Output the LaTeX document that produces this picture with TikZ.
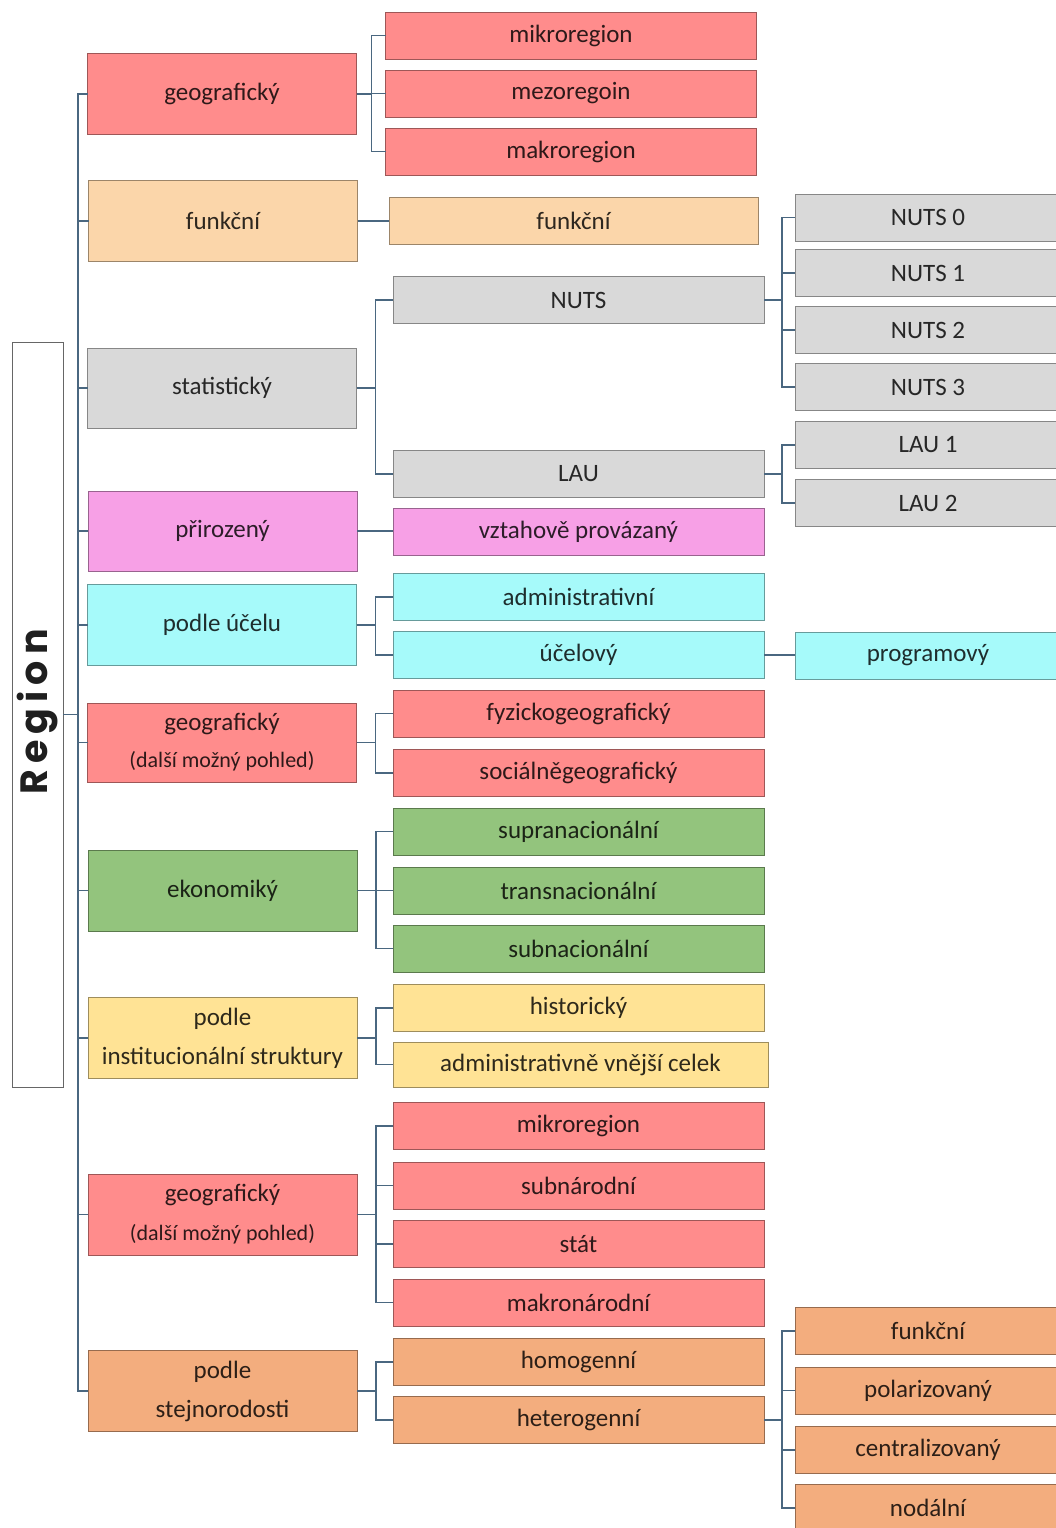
\documentclass[tikz,border=0pt]{standalone}
\usepackage{fontspec}
\setmainfont{Carlito}
\newfontfamily\regfont[LetterSpace=16]{Poppins}
\usetikzlibrary{calc}
\definecolor{cred}{HTML}{FF8C8C}
\definecolor{cpeach}{HTML}{FBD6AA}
\definecolor{cgray}{HTML}{D9D9D9}
\definecolor{cpink}{HTML}{F7A0E6}
\definecolor{ccyan}{HTML}{A6FAFA}
\definecolor{cgreen}{HTML}{93C47D}
\definecolor{cyellow}{HTML}{FFE395}
\definecolor{corange}{HTML}{F3AD7E}
\definecolor{lnk}{HTML}{4A6780}
\tikzset{
  box/.style={draw=#1!62!black, line width=0.7pt, fill=#1, text=#1!18!black,
    inner sep=0pt, outer sep=0pt, font=\fontsize{25}{39}\selectfont, align=center},
  lone/.style={minimum width=269pt, minimum height=81pt},
  ltwo/.style={minimum width=371pt, minimum height=47pt},
  lthree/.style={minimum width=266pt, minimum height=47pt},
  conn/.style={draw=lnk, line width=1.2pt}
}
\newcommand\subt[1]{{\fontsize{22}{22}\selectfont #1}}
\begin{document}
\begin{tikzpicture}[x=1pt,y=-1pt]
\useasboundingbox (0,0) rectangle (1055,1528);
% Region
\node[draw=black!60, line width=0.8pt, fill=white, minimum width=51pt, minimum height=745pt, inner sep=0pt, outer sep=0pt, text=black!88]
  (reg) at (37.5,714.5) {\rotatebox{90}{\fontsize{38}{38}\regfont\bfseries Region\hspace{-5pt}}};
% level 1
\node[box=cred, lone] (g1) at (222,94) {geografický};
\node[box=cpeach, lone] (f1) at (223,221) {funkční};
\node[box=cgray, lone, minimum height=80pt] (s1) at (222,388) {statistický};
\node[box=cpink, lone, minimum height=80pt] (p1) at (222.5,531) {přirozený};
\node[box=ccyan, lone] (u1) at (222,625) {podle účelu};
\node[box=cred, lone, minimum height=79pt, font=\fontsize{25}{37}\selectfont] (g2) at (222,742.5) {geografický\\\subt{(další možný pohled)}};
\node[box=cgreen, lone] (e1) at (222.5,890.5) {ekonomiký};
\node[box=cyellow, lone] (i1) at (222.5,1038) {podle\\institucionální struktury};
\node[box=cred, lone, font=\fontsize{25}{39}\selectfont] (g3) at (222.5,1214.5) {geografický\\\subt{(další možný pohled)}};
\node[box=corange, lone] (h1) at (222.5,1391) {podle\\stejnorodosti};
% level 2
\node[box=cred, ltwo] (a1) at (571,35.5) {mikroregion};
\node[box=cred, ltwo] (a2) at (571,93.5) {mezoregoin};
\node[box=cred, ltwo] (a3) at (571,151.5) {makroregion};
\node[box=cpeach, ltwo, minimum width=369pt] (b1) at (573.5,221) {funkční};
\node[box=cgray, ltwo] (c1) at (578.5,300) {NUTS};
\node[box=cgray, ltwo] (c2) at (578.5,474) {LAU};
\node[box=cpink, ltwo] (d1) at (578.5,532) {vztahově provázaný};
\node[box=ccyan, ltwo] (k1) at (578.5,597) {administrativní};
\node[box=ccyan, ltwo] (k2) at (578.5,655) {účelový};
\node[box=cred, ltwo] (m1) at (578.5,713.5) {fyzickogeografický};
\node[box=cred, ltwo] (m2) at (578.5,773) {sociálněgeografický};
\node[box=cgreen, ltwo] (n1) at (578.5,831.5) {supranacionální};
\node[box=cgreen, ltwo] (n2) at (578.5,890.5) {transnacionální};
\node[box=cgreen, ltwo] (n3) at (578.5,948.5) {subnacionální};
\node[box=cyellow, ltwo] (q1) at (578.5,1008) {historický};
\node[box=cyellow, ltwo, minimum width=375pt, minimum height=45pt] (q2) at (580.5,1064.5) {administrativně vnější celek};
\node[box=cred, ltwo] (r1) at (578.5,1126) {mikroregion};
\node[box=cred, ltwo] (r2) at (578.5,1185.5) {subnárodní};
\node[box=cred, ltwo] (r3) at (578.5,1244) {stát};
\node[box=cred, ltwo] (r4) at (578.5,1302.5) {makronárodní};
\node[box=corange, ltwo] (t1) at (578.5,1362) {homogenní};
\node[box=corange, ltwo] (t2) at (578.5,1420) {heterogenní};
% level 3
\node[box=cgray, lthree] (x0) at (928,217.5) {NUTS 0};
\node[box=cgray, lthree] (x1) at (928,273) {NUTS 1};
\node[box=cgray, lthree] (x2) at (928,330) {NUTS 2};
\node[box=cgray, lthree] (x3) at (928,387) {NUTS 3};
\node[box=cgray, lthree] (y1) at (928,445) {LAU 1};
\node[box=cgray, lthree] (y2) at (928,503) {LAU 2};
\node[box=ccyan, lthree] (z1) at (928,655.5) {programový};
\node[box=corange, lthree] (w1) at (928,1331) {funkční};
\node[box=corange, lthree] (w2) at (928,1390.5) {polarizovaný};
\node[box=corange, lthree] (w3) at (928,1450) {centralizovaný};
\node[box=corange, lthree] (w4) at (928,1508) {nodální};
% connectors
\foreach \c in {g1,f1,s1,p1,u1,g2,e1,i1,g3,h1}
  \draw[conn] (reg.east) -- ++(15,0) |- (\c.west);
\foreach \c in {a1,a2,a3} \draw[conn] (g1.east) -- ++(15,0) |- (\c.west);
\draw[conn] (f1.east) -- (f1.east -| b1.west);
\foreach \c in {c1,c2} \draw[conn] (s1.east) -- ++(19,0) |- (\c.west);
\draw[conn] (p1.east) -- (p1.east -| d1.west);
\foreach \c in {k1,k2} \draw[conn] (u1.east) -- ++(19,0) |- (\c.west);
\foreach \c in {m1,m2} \draw[conn] (g2.east) -- ++(19,0) |- (\c.west);
\foreach \c in {n1,n2,n3} \draw[conn] (e1.east) -- ++(19,0) |- (\c.west);
\foreach \c in {q1,q2} \draw[conn] (i1.east) -- ++(19,0) |- (\c.west);
\foreach \c in {r1,r2,r3,r4} \draw[conn] (g3.east) -- ++(19,0) |- (\c.west);
\foreach \c in {t1,t2} \draw[conn] (h1.east) -- ++(19,0) |- (\c.west);
\foreach \c in {x0,x1,x2,x3} \draw[conn] (c1.east) -- ++(18,0) |- (\c.west);
\foreach \c in {y1,y2} \draw[conn] (c2.east) -- ++(18,0) |- (\c.west);
\draw[conn] (k2.east) -- (k2.east -| z1.west);
\foreach \c in {w1,w2,w3,w4} \draw[conn] (t2.east) -- ++(18,0) |- (\c.west);
\end{tikzpicture}
\end{document}
